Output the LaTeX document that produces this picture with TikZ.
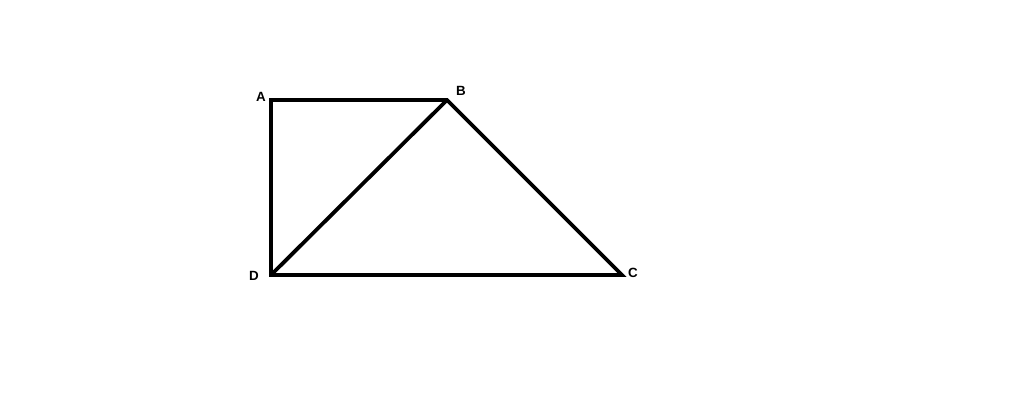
\documentclass[tikz,border=0pt]{standalone}
\usepackage{fontspec}
\setmainfont{Liberation Sans}
\tikzset{
  edge/.style={line width=2.7pt, line join=miter},
  corner/.style={font=\bfseries\fontsize{9.5}{11}\selectfont, inner sep=0pt}
}
\begin{document}
\begin{tikzpicture}[x=0.025cm,y=-0.025cm]
        \useasboundingbox (0,0) rectangle (1024,416);
        % corner points
        \coordinate (A) at (271,100);
        \coordinate (B) at (447,100);
        \coordinate (C) at (622,275);
        \coordinate (D) at (271,275);
        % drawing the trapezium
        \draw[edge] (A) -- (B) -- (C) -- (D) -- cycle;
        \draw[edge] (D) -- (B);
        % labels of the corners
        \node[corner] (labelA) at (261,97)  {A};
        \node[corner] (labelB) at (461,91)  {B};
        \node[corner] (labelC) at (633,273) {C};
        \node[corner] (labelD) at (254,276) {D};
\end{tikzpicture}
\end{document}
